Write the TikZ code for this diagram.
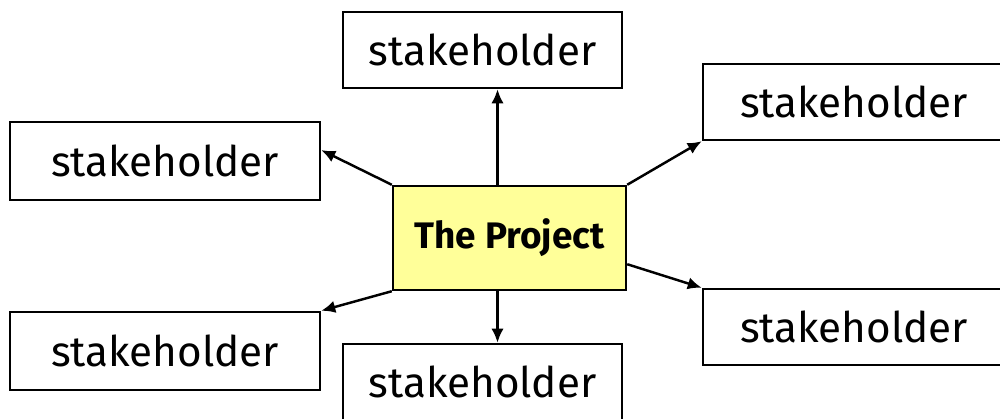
\documentclass[tikz,border=0pt]{standalone}
\usepackage{fontspec}
\setmainfont{Fira Sans}
\usetikzlibrary{arrows.meta}
\definecolor{projyellow}{RGB}{255,255,153}
\begin{document}
\begin{tikzpicture}[
	box/.style={draw, line width=1.4pt, inner sep=0pt, minimum height=1.52cm, font=\fontsize{24}{28}\selectfont},
	link/.style={line width=1.4pt, -{Latex[length=8pt,width=7pt]}}]
	\useasboundingbox (0,0) rectangle (20,8.38);
	\node[box, fill=projyellow, minimum width=4.66cm, minimum height=2.08cm, font=\bfseries\fontsize{21}{24}\selectfont] (proj) at (10.19,3.62) {The Project};
	\node[box, minimum width=5.58cm] (top) at (9.65,7.38) {stakeholder};
	\node[box, minimum width=6.2cm, minimum height=1.56cm] (ltop) at (3.3,5.16) {stakeholder};
	\node[box, minimum width=6.2cm, minimum height=1.56cm] (lbot) at (3.3,1.36) {stakeholder};
	\node[box, minimum width=6.04cm] (rtop) at (17.08,6.34) {stakeholder};
	\node[box, minimum width=6.04cm] (rbot) at (17.08,1.84) {stakeholder};
	\node[box, minimum width=5.58cm] (bot) at (9.65,0.74) {stakeholder};
	\draw[link] ([xshift=-0.24cm]proj.north) -- ([xshift=-0.24cm]proj.north |- top.south);
	\draw[link] ([xshift=-0.24cm]proj.south) -- ([xshift=-0.24cm]proj.south |- bot.north);
	\draw[link] (proj.north west) -- (ltop.4);
	\draw[link] (proj.south west) -- (lbot.north east);
	\draw[link] (proj.north east) -- (rtop.south west);
	\draw[link] ([yshift=0.54cm]proj.south east) -- (rbot.north west);
\end{tikzpicture}
\end{document}
